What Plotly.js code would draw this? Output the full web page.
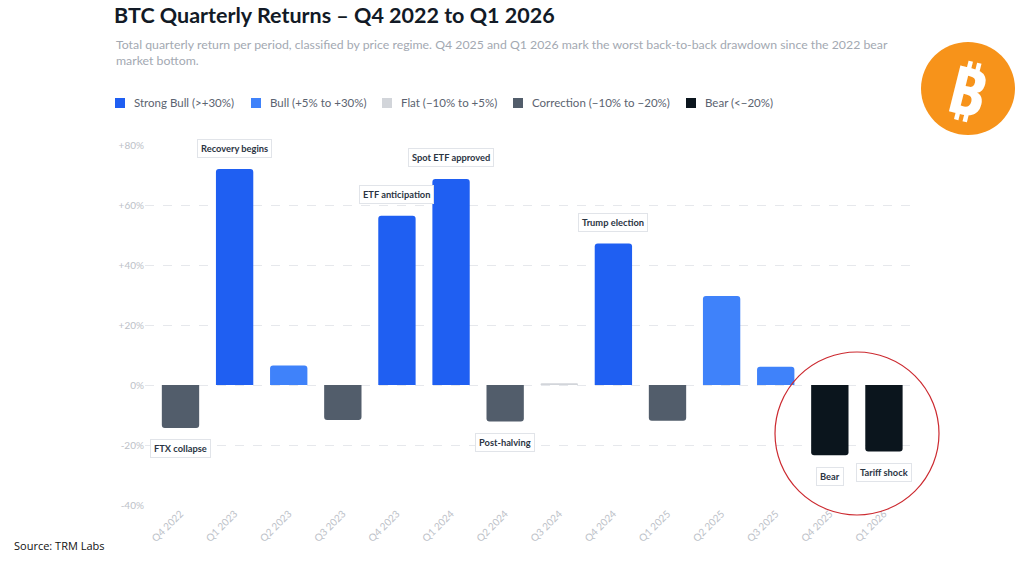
<!DOCTYPE html>
<html>
<head>
<meta charset="utf-8">
<script src="https://cdn.plot.ly/plotly-3.0.1.min.js"></script>
<style>
html,body{margin:0;padding:0;background:#fff;}
#chart{width:1024px;height:576px;}
</style>
</head>
<body>
<div id="chart"></div>
<script>
// ---- data ----
const quarters = ["Q4 2022","Q1 2023","Q2 2023","Q3 2023","Q4 2023","Q1 2024","Q2 2024","Q3 2024","Q4 2024","Q1 2025","Q2 2025","Q3 2025","Q4 2025","Q1 2026"];
const returns  = [-14.3, 72.0, 6.5, -11.7, 56.4, 68.7, -12.2, 0.6, 47.2, -11.9, 29.7, 6.1, -23.4, -22.2];
const regimes  = ["Correction","Strong Bull","Bull","Correction","Strong Bull","Strong Bull","Correction","Flat","Strong Bull","Correction","Bull","Bull","Bear","Bear"];
const events   = ["FTX collapse","Recovery begins","","","ETF anticipation","Spot ETF approved","Post-halving","","Trump election","","","","Bear","Tariff shock"];
const regimeNames  = ["Strong Bull","Bull","Flat","Correction","Bear"];
const regimeLabels = ["Strong Bull (>+30%)","Bull (+5% to +30%)","Flat (\u221210% to +5%)","Correction (\u221210% to \u221220%)","Bear (<\u221220%)"];
const regimeColors = ["#1f5ff2","#3f82fa","#d2d5da","#525d6b","#0b151d"];
const yTickVals  = [80, 60, 40, 20, 0, -20, -40];
const yTickText  = ["+80%","+60%","+40%","+20%","0%","-20%","-40%"];

// ---- layout helpers (pixel -> paper) ----
const W = 1024, H = 576;
const M = {l:145, r:113, t:145, b:71};
const pw = W - M.l - M.r, ph = H - M.t - M.b;
const px = x => (x - M.l) / pw;
const py = y => (H - M.b - y) / ph;

const FONT = "Lato, 'Noto Sans', sans-serif";

const traces = regimeNames.map((name, k) => {
  const xs = [], ys = [];
  quarters.forEach((q, i) => { if (regimes[i] === name) { xs.push(q); ys.push(returns[i]); } });
  return {
    type: "bar", name: regimeLabels[k], x: xs, y: ys,
    marker: {color: regimeColors[k], line: {width: 0}},
    hoverinfo: "x+y", showlegend: false
  };
});

const annotations = [];
const shapes = [];
quarters.forEach((q, i) => {
  if (!events[i]) return;
  const v = returns[i];
  annotations.push({
    x: q, y: v >= 0 ? v + 7 : v - 7, xref: "x", yref: "y",
    text: "<b>" + events[i] + "</b>", showarrow: false,
    font: {family: FONT, size: 9.3, color: "#2b3543"},
    bgcolor: "#ffffff", bordercolor: "#e1e4e9", borderwidth: 1, borderpad: 3
  });
});

// custom legend (squares + labels)
const legendX = [115, 251, 382, 513, 686];
regimeLabels.forEach((lab, k) => {
  shapes.push({type: "rect", xref: "paper", yref: "paper",
    x0: px(legendX[k]), x1: px(legendX[k] + 10), y0: py(98), y1: py(108),
    fillcolor: regimeColors[k], line: {width: 0}});
  annotations.push({xref: "paper", yref: "paper", x: px(legendX[k] + 16.5), y: py(103),
    xanchor: "left", yanchor: "middle", showarrow: false, text: lab,
    font: {family: FONT, size: 11.5, color: "#5b6370"}});
});

// subtitle
annotations.push({
  xref: "paper", yref: "paper", x: px(114), y: py(35), xanchor: "left", yanchor: "top", align: "left",
  showarrow: false,
  text: "Total quarterly return per period, classified by price regime. Q4 2025 and Q1 2026 mark the worst back-to-back drawdown since the 2022 bear<br>market bottom.",
  font: {family: FONT, size: 12.3, color: "#a3a9b2"}
});
// source
annotations.push({
  xref: "paper", yref: "paper", x: px(12), y: py(545), xanchor: "left", yanchor: "middle",
  showarrow: false, text: "Source: TRM Labs",
  font: {family: "'Open Sans', sans-serif", size: 11, color: "#111111"}
});
// bitcoin symbol
annotations.push({
  xref: "paper", yref: "paper", x: px(968), y: py(89), xanchor: "center", yanchor: "middle",
  showarrow: false, text: "<b>\u20BF</b>", textangle: 14,
  font: {family: "'Noto Sans', 'DejaVu Sans', sans-serif", size: 66, color: "#ffffff"}
});

shapes.push(
  {type: "circle", xref: "paper", yref: "paper", x0: px(921), x1: px(1015), y0: py(42), y1: py(135),
   fillcolor: "#f7931a", line: {width: 0}, layer: "below"},
  {type: "circle", xref: "paper", yref: "paper", x0: px(775), x1: px(939), y0: py(352), y1: py(515),
   fillcolor: "rgba(0,0,0,0)", line: {color: "#cc2a30", width: 1.2}}
);

const layout = {
  width: W, height: H,
  margin: M,
  paper_bgcolor: "#ffffff", plot_bgcolor: "#ffffff",
  font: {family: FONT},
  title: {
    text: "<b>BTC Quarterly Returns \u2013 Q4 2022 to Q1 2026</b>",
    x: 114 / W, xref: "container", xanchor: "left",
    y: 1 - 15 / H, yref: "container", yanchor: "middle",
    font: {family: FONT, size: 21.5, color: "#121a26"}
  },
  barmode: "overlay",
  bargap: 0.31,
  barcornerradius: 3,
  showlegend: false,
  xaxis: {
    type: "category", categoryorder: "array", categoryarray: quarters,
    range: [-0.656, 13.5],
    tickangle: -45, tickfont: {family: FONT, size: 10, color: "#bcc1c8"},
    showgrid: false, zeroline: false, showline: false, ticks: "", fixedrange: true
  },
  yaxis: {
    range: [-40, 80], tickvals: yTickVals, ticktext: yTickText,
    tickfont: {family: FONT, size: 10, color: "#bcc1c8"},
    showgrid: true, gridcolor: "#e6e8ec", gridwidth: 1, griddash: "dash",
    zeroline: false, showline: false, ticks: "", fixedrange: true
  },
  annotations: annotations,
  shapes: shapes
};

Plotly.newPlot("chart", traces, layout, {displayModeBar: false, staticPlot: true});
</script>
</body>
</html>
